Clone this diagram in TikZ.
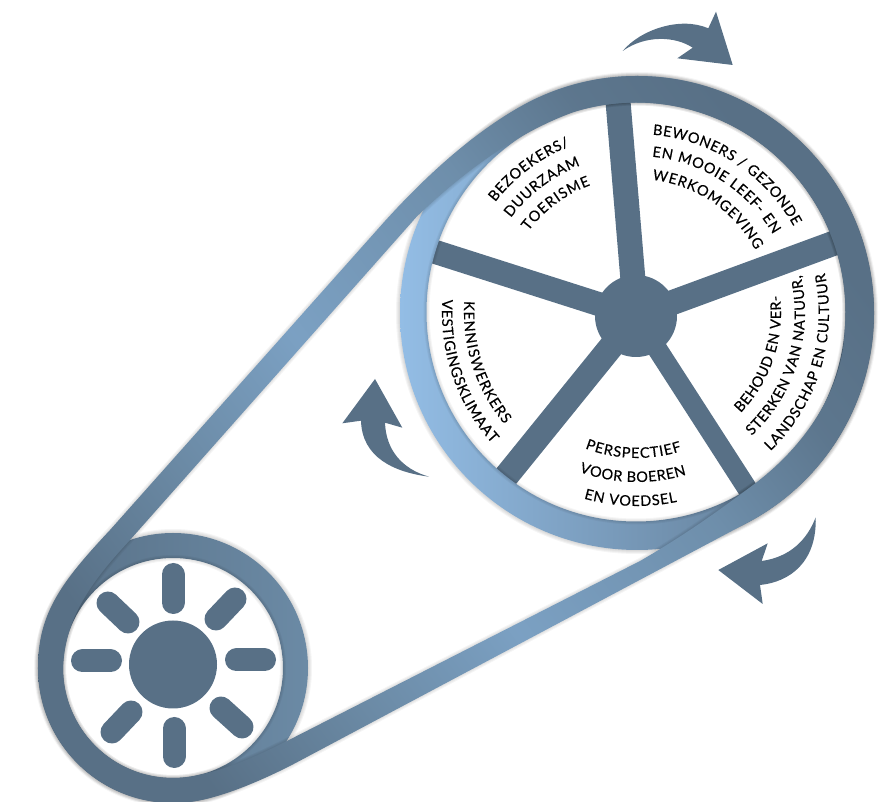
\documentclass[tikz,border=0pt]{standalone}
\usepackage{fontspec}
\setmainfont[FakeBold=0.35]{Lato}
\usetikzlibrary{positioning,decorations.text}
\definecolor{slate}{HTML}{587086}
\definecolor{skyblue}{HTML}{93BDE5}
\definecolor{midblue}{HTML}{80A7CB}
\definecolor{steel}{HTML}{6B8AA5}
\pgfdeclarehorizontalshading{beltshade}{100bp}{%
  color(0bp)=(slate); color(34.9bp)=(slate); color(41bp)=(steel);
  color(47bp)=(midblue!88!slate); color(55bp)=(steel!85!midblue); color(60bp)=(slate!75!steel);
  color(64.3bp)=(slate); color(100bp)=(slate)}
\tikzstyle{disc}=[%
      circle, fill=slate, draw=none, inner sep=0pt
]
\tikzstyle{spoke}=[%
      draw=slate
]
\tikzstyle{sunray}=[%
      draw=slate, line width=23pt, line cap=round
]
\tikzstyle{turn}=[%
      fill=slate, draw=none
]
\tikzstyle{glow}=[%
      draw=black, opacity=0.04
]
\tikzstyle{wheeltext}=[%
      decorate, decoration={text along path, text align=fit to path}
]
\newcommand{\beltouter}{(529.7,700.3) arc[start angle=116.9, end angle=-61.2, radius=237]
  -- (290,36) .. controls (248,15) and (215.3,3.3) .. (189.9,0.1)
  arc[start angle=-82.8, end angle=-183.4, radius=135]
  .. controls (40,192) and (65,224) .. (110,272)
  -- (385,581) .. controls (436.1,637.3) and (484.5,677) .. (529.7,700.3) -- cycle}
\newcommand{\beltinner}{(574.7,690.3) arc[start angle=107, end angle=-5, radius=209.5]
  .. controls (843,412) and (805,357) .. (757,320)
  .. controls (720,292) and (685,267) .. (640,241)
  -- (283,59) .. controls (255,45) and (228,33) .. (200.4,27.5)
  arc[start angle=-75.6, end angle=-180, radius=110]
  .. controls (65,182) and (88,217) .. (130,262)
  -- (416.7,585.3) .. controls (455,622) and (510,667) .. (574.7,690.3) -- cycle}
\newcommand{\ringtext}[4]{\path[wheeltext, decoration={text={#4}}] ([shift={(#2:#1)}]big) arc[start angle=#2, end angle=#3, radius=#1];}
\begin{document}
\begin{tikzpicture}[x=1pt, y=1pt]
    \useasboundingbox (0,0) rectangle (888,802);
    \fontsize{14.5}{18}\selectfont
    \coordinate (big) at (637,489);
    \coordinate (bigin) at (636,490);
    \coordinate (small) at (173,134);
    % soft edge under the wheels
    \foreach \w in {2,4,6,8} {
      \draw[glow, line width=\w pt] (big) circle[radius=237];
      \draw[glow, line width=\w pt] (small) circle[radius=135];
    }
    \node[disc, minimum size=82pt] (hub) at (636,486) {};
    \foreach \a/\w in {94.8/25, 20.2/25, 162.3/24, 231/25, -57.2/20} {
      \draw[spoke, line width=\w pt] (hub.center) -- ++(\a:225);
    }
    % sun in the small wheel
    \node[disc, minimum size=88pt] (sun) at (173,137.5) {};
    \draw[sunray] (173,227.5) -- (173,199.5);
    \draw[sunray] (236.5,142) -- (264.5,142);
    \draw[sunray] (82.5,141) -- (110.5,141);
    \draw[sunray] (174,73.5) -- (174,45.5);
    \draw[sunray] (108,199) -- (128,180);
    \draw[sunray] (235,203) -- (216,183);
    \draw[sunray] (131,90) -- (112,70);
    \draw[sunray] (221,94) -- (242,75);
    % the two rims
    \path[even odd rule, left color=skyblue, middle color=midblue, right color=slate]
      (big) circle[radius=237] (bigin) circle[radius=209.5];
    \path[even odd rule, left color=slate, middle color=steel!60!slate, right color=steel]
      (small) circle[radius=135] (small) circle[radius=110];
    \foreach \w in {2,4,6} {
      \draw[glow, line width=\w pt] (bigin) circle[radius=209.5];
      \draw[glow, line width=\w pt] (small) circle[radius=110];
      \draw[glow, line width=\w pt] \beltouter;
      \draw[glow, line width=\w pt] \beltinner;
    }
    % belt on top of the rims
    \begin{scope}[even odd rule]
      \clip \beltouter \beltinner;
      \shade[shading=beltshade, shading angle=37] (-250,-300) rectangle (1150,1100);
    \end{scope}
    % arrows
    \fill[turn] (622.7,751) .. controls (640,772) and (680,786) .. (708.3,773.7)
      -- (716,790.3) -- (732.7,737) -- (677.3,743.7) -- (692.7,754.3)
      .. controls (675,766) and (645,767) .. (622.7,751) -- cycle;
    \fill[turn] (429,325.3) .. controls (393,330) and (362,345) .. (361,381.3)
      -- (342.3,378.7) -- (375,423) -- (402.3,374.3) -- (385,379.3)
      .. controls (386,352) and (402,333) .. (429,325.3) -- cycle;
    \fill[turn] (815.7,284.7) .. controls (807,262) and (790,245) .. (761.7,241)
      -- (767.7,258.7) -- (718.3,232) -- (762.7,198) -- (760,217)
      .. controls (790,220) and (817,240) .. (815.7,284.7) -- cycle;
    % labels
    \ringtext{179}{85}{29}{BEWONERS / GEZONDE}
    \ringtext{157}{84.5}{30}{EN MOOIE LEEF- EN}
    \ringtext{134}{83.5}{28}{WERKOMGEVING}
    \ringtext{180}{142}{112}{BEZOEKERS/}
    \ringtext{158}{143}{111}{DUURZAAM}
    \ringtext{136}{143}{110}{TOERISME}
    \ringtext{144}{-44}{7}{BEHOUD EN VER-}
    \ringtext{168}{-47}{13}{STERKEN VAN NATUUR,}
    \ringtext{192}{-46}{12}{LANDSCHAP EN CULTUUR}
    \ringtext{145}{-111}{-72}{PERSPECTIEF}
    \ringtext{169}{-110}{-73}{VOOR BOEREN}
    \ringtext{193}{-106}{-78}{EN VOEDSEL}
    \ringtext{173}{176}{220}{KENNISWERKERS}
    \ringtext{195}{176}{222}{VESTIGINGSKLIMAAT}
  \end{tikzpicture}
\end{document}
